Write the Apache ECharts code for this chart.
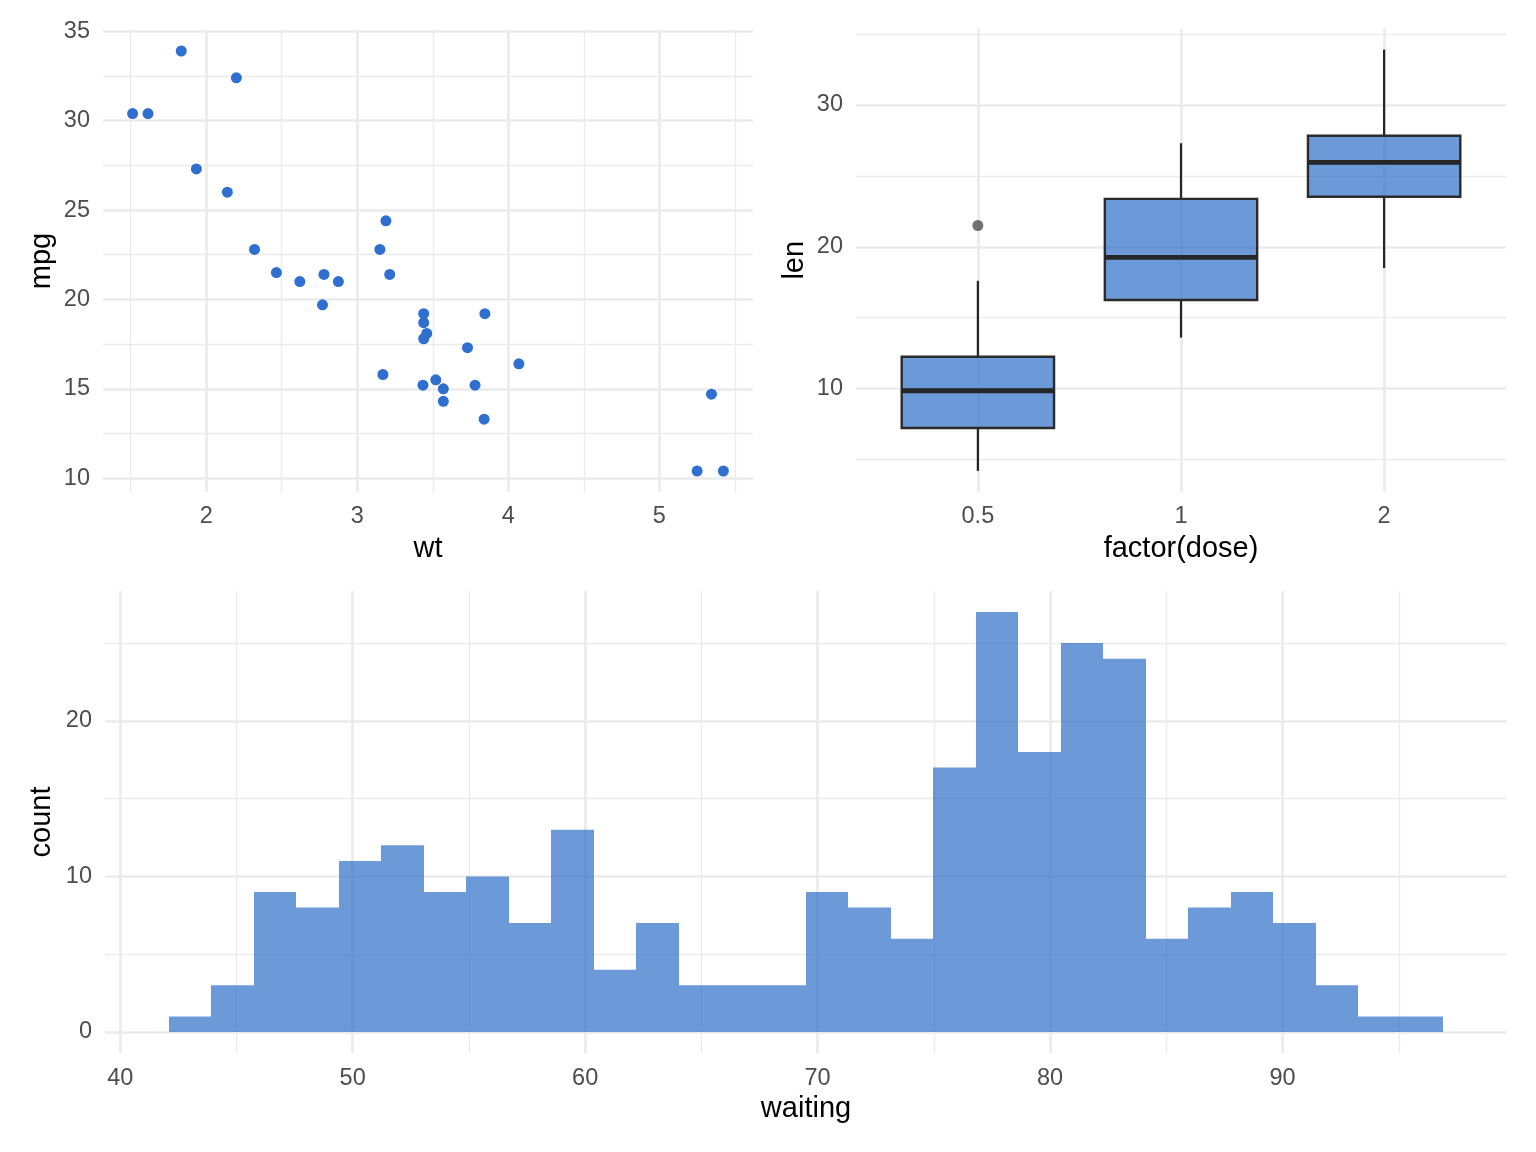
<!DOCTYPE html>
<html>
<head>
<meta charset="utf-8">
<script src="https://cdn.jsdelivr.net/npm/echarts@6/dist/echarts.min.js"></script>
<style>
html,body{margin:0;padding:0;background:#fff}
#main{width:1536px;height:1152px}
</style>
</head>
<body>
<div id="main"></div>
<script>
// mtcars
var wt = [2.620,2.875,2.320,3.215,3.440,3.460,3.570,3.190,3.150,3.440,3.440,4.070,3.730,3.780,5.250,5.424,
          5.345,2.200,1.615,1.835,2.465,3.520,3.435,3.840,3.845,1.935,2.140,1.513,3.170,2.770,3.570,2.780];
var mpg = [21.0,21.0,22.8,21.4,18.7,18.1,14.3,24.4,22.8,19.2,17.8,16.4,17.3,15.2,10.4,10.4,
           14.7,32.4,30.4,33.9,21.5,15.5,15.2,13.3,19.2,27.3,26.0,30.4,15.8,19.7,15.0,21.4];

// ToothGrowth len by dose: lower whisker, q1, median, q3, upper whisker
var doseLevels = ['0.5', '1', '2'];
var lenStats = [
  [4.2, 7.225, 9.85, 12.25, 17.6],
  [13.6, 16.25, 19.25, 23.375, 27.3],
  [18.5, 23.525, 25.95, 27.825, 33.9]
];
var lenOutliers = [[1, 21.5]];

// faithful waiting, 30 bins
var binLeft = 42.086;
var binWidth = 1.8276;
var waitingCounts = [1,3,9,8,11,12,9,10,7,13,4,7,3,3,3,9,8,6,17,27,18,25,24,6,8,9,7,3,1,1];

// tick values
var wtTicks = [2,3,4,5], wtMinor = [1.5,2.5,3.5,4.5,5.5];
var mpgTicks = [10,15,20,25,30,35], mpgMinor = [12.5,17.5,22.5,27.5,32.5];
var lenTicks = [10,20,30], lenMinor = [5,15,25,35];
var waitTicks = [40,50,60,70,80,90], waitMinor = [45,55,65,75,85,95];
var countTicks = [0,10,20], countMinor = [5,15,25];

var font = "'Liberation Sans', Arial, sans-serif";
var gridCol = '#ebebeb';
var pointCol = '#2e6fcf';
var fillCol = 'rgba(46,110,200,0.7)';

var scatterData = wt.map(function(w, i){ return [w, mpg[i]]; });
var boxData = lenStats.map(function(s, i){ return [i + 1].concat(s); });
var histData = waitingCounts.map(function(c, i){
  return [binLeft + i * binWidth, binLeft + (i + 1) * binWidth, c];
});

function majorAxis(o){
  var a = {
    type: 'value', gridIndex: o.grid, min: o.min, max: o.max,
    name: o.name, nameLocation: 'middle', nameGap: o.gap,
    nameTextStyle: {fontFamily: font, fontSize: 29, color: '#000'},
    axisLine: {show: false}, axisTick: {show: false, customValues: o.ticks},
    axisLabel: {customValues: o.ticks, fontFamily: font, fontSize: 23.5, color: '#4d4d4d', margin: o.margin,
                formatter: o.fmt || function(v){ return String(v); }},
    splitLine: {show: true, lineStyle: {color: gridCol, width: 2.7}}
  };
  if (o.pos) a.position = o.pos;
  if (o.noMove) a.nameMoveOverlap = false;
  return a;
}
function minorAxis(o){
  return {
    type: 'value', gridIndex: o.grid, min: o.min, max: o.max, position: o.pos,
    axisLine: {show: false}, axisTick: {show: false, customValues: o.ticks},
    axisLabel: {show: false, customValues: o.ticks},
    splitLine: {show: true, lineStyle: {color: gridCol, width: 1.4}}
  };
}

var chart = echarts.init(document.getElementById('main'));
chart.setOption({
  animation: false,
  backgroundColor: '#fff',
  grid: [
    {left: 103, top: 30, width: 650, height: 462},
    {left: 856, top: 28.5, width: 650, height: 463.5},
    {left: 105, top: 591, width: 1402, height: 462}
  ],
  xAxis: [
    majorAxis({grid: 0, min: 1.317, max: 5.620, ticks: wtTicks, name: 'wt', gap: 42, margin: 13}),
    majorAxis({grid: 1, min: 0.4, max: 3.6, ticks: [1,2,3], name: 'factor(dose)', gap: 42, margin: 13,
               fmt: function(v){ return doseLevels[v - 1]; }}),
    majorAxis({grid: 2, min: 39.345, max: 99.655, ticks: waitTicks, name: 'waiting', gap: 41, margin: 14}),
    minorAxis({grid: 0, min: 1.317, max: 5.620, ticks: wtMinor, pos: 'top'}),
    minorAxis({grid: 2, min: 39.345, max: 99.655, ticks: waitMinor, pos: 'top'})
  ],
  yAxis: [
    majorAxis({grid: 0, min: 9.225, max: 35.075, ticks: mpgTicks, name: 'mpg', gap: 47, margin: 13, noMove: true}),
    majorAxis({grid: 1, min: 2.715, max: 35.385, ticks: lenTicks, name: 'len', gap: 47, margin: 13, noMove: true}),
    majorAxis({grid: 2, min: -1.35, max: 28.35, ticks: countTicks, name: 'count', gap: 49, margin: 13, noMove: true}),
    minorAxis({grid: 0, min: 9.225, max: 35.075, ticks: mpgMinor, pos: 'right'}),
    minorAxis({grid: 1, min: 2.715, max: 35.385, ticks: lenMinor, pos: 'right'}),
    minorAxis({grid: 2, min: -1.35, max: 28.35, ticks: countMinor, pos: 'right'})
  ],
  series: [
    {
      type: 'scatter', xAxisIndex: 0, yAxisIndex: 0,
      data: scatterData, symbolSize: 11,
      itemStyle: {color: pointCol, opacity: 1}
    },
    {
      type: 'custom', xAxisIndex: 1, yAxisIndex: 1,
      data: boxData,
      encode: {x: 0, y: [1, 2, 3, 4, 5]},
      renderItem: function(params, api){
        var i = api.value(0);
        var lo = api.coord([i, api.value(1)]);
        var q1 = api.coord([i, api.value(2)]);
        var med = api.coord([i, api.value(3)]);
        var q3 = api.coord([i, api.value(4)]);
        var hi = api.coord([i, api.value(5)]);
        var half = api.size([0.75, 0])[0] / 2;
        var x = lo[0];
        var ws = {stroke: '#262626', lineWidth: 2.2};
        return {type: 'group', children: [
          {type: 'line', shape: {x1: x, y1: hi[1], x2: x, y2: q3[1]}, style: ws},
          {type: 'line', shape: {x1: x, y1: q1[1], x2: x, y2: lo[1]}, style: ws},
          {type: 'rect', shape: {x: x - half, y: q3[1], width: half * 2, height: q1[1] - q3[1]},
           style: {fill: fillCol, stroke: '#2b2b2b', lineWidth: 2.4}},
          {type: 'line', shape: {x1: x - half, y1: med[1], x2: x + half, y2: med[1]},
           style: {stroke: '#262626', lineWidth: 4.8}}
        ]};
      }
    },
    {
      type: 'scatter', xAxisIndex: 1, yAxisIndex: 1,
      data: lenOutliers, symbolSize: 11,
      itemStyle: {color: 'rgba(30,30,30,0.78)'}
    },
    {
      type: 'custom', xAxisIndex: 2, yAxisIndex: 2,
      data: histData,
      encode: {x: [0, 1], y: 2},
      renderItem: function(params, api){
        var p0 = api.coord([api.value(0), 0]);
        var p1 = api.coord([api.value(1), api.value(2)]);
        var l = Math.round(p0[0]), r = Math.round(p1[0]);
        return {type: 'rect', shape: {x: l, y: p1[1], width: r - l, height: p0[1] - p1[1]},
                style: {fill: fillCol}};
      }
    }
  ]
});
</script>
</body>
</html>
